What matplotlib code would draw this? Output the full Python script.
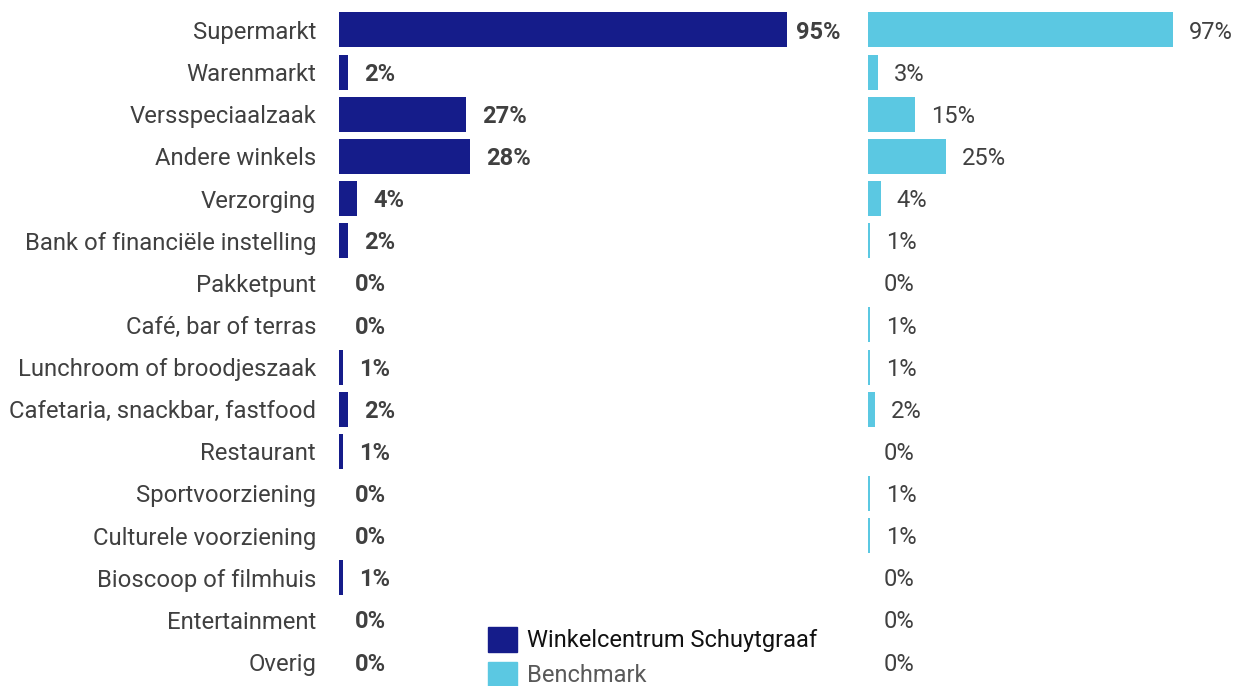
import matplotlib.pyplot as plt
from matplotlib.patches import Patch

plt.rcParams['font.family'] = ['Roboto', 'DejaVu Sans']

categories = ['Supermarkt', 'Warenmarkt', 'Versspeciaalzaak', 'Andere winkels',
              'Verzorging', 'Bank of financiële instelling', 'Pakketpunt',
              'Café, bar of terras', 'Lunchroom of broodjeszaak',
              'Cafetaria, snackbar, fastfood', 'Restaurant', 'Sportvoorziening',
              'Culturele voorziening', 'Bioscoop of filmhuis', 'Entertainment',
              'Overig']
schuytgraaf = [95, 1.9, 27, 27.8, 3.9, 1.9, 0, 0, 0.9, 1.9, 0.9, 0, 0, 0.9, 0, 0]
benchmark = [97, 3.2, 15, 24.8, 4.1, 0.7, 0, 0.7, 0.7, 2.2, 0, 0.7, 0.7, 0, 0, 0]
series_names = ['Winkelcentrum Schuytgraaf', 'Benchmark']

dark = '#151c8a'
light = '#5bc8e2'
txt = '#404040'

W, H = 1235, 686
fig = plt.figure(figsize=(W / 100, H / 100), dpi=100)

bottom = 1 - 683.1 / H
height = 674.2 / H
ax1 = fig.add_axes([339 / W, bottom, 472 / W, height])
ax2 = fig.add_axes([868 / W, bottom, 314 / W, height])

y = list(range(len(categories)))

for ax, vals, col, bold in [(ax1, schuytgraaf, dark, True),
                            (ax2, benchmark, light, False)]:
    ax.barh(y, vals, height=0.83, color=col)
    ax.set_xlim(0, 100)
    ax.set_ylim(len(categories) - 0.5, -0.5)
    for s in ax.spines.values():
        s.set_visible(False)
    ax.set_xticks([])
    for yi, v in zip(y, vals):
        off = 6 if v > 90 and bold else 11.5
        ax.annotate(f'{round(v):.0f}%', (v, yi), xytext=(off, -1.5),
                    textcoords='offset points', ha='left', va='center',
                    fontsize=17, color=txt,
                    fontweight='bold' if bold else 'normal')

ax1.set_yticks(y)
ax1.set_yticklabels(categories, fontsize=17.2, color=txt)
ax1.tick_params(axis='y', length=0, pad=16.5)
ax2.set_yticks([])

handles = [Patch(color=dark), Patch(color=light)]
leg = fig.legend(handles, series_names, loc='upper left',
                 bbox_to_anchor=(488 / W, 1 - 627 / H), frameon=False,
                 fontsize=17, handlelength=1.23, handleheight=1.23,
                 handletextpad=0.42, labelspacing=0.42, borderpad=0,
                 borderaxespad=0)
leg.get_texts()[0].set_color('#111111')
leg.get_texts()[1].set_color('#595959')

fig.savefig('out.png', dpi=100)
